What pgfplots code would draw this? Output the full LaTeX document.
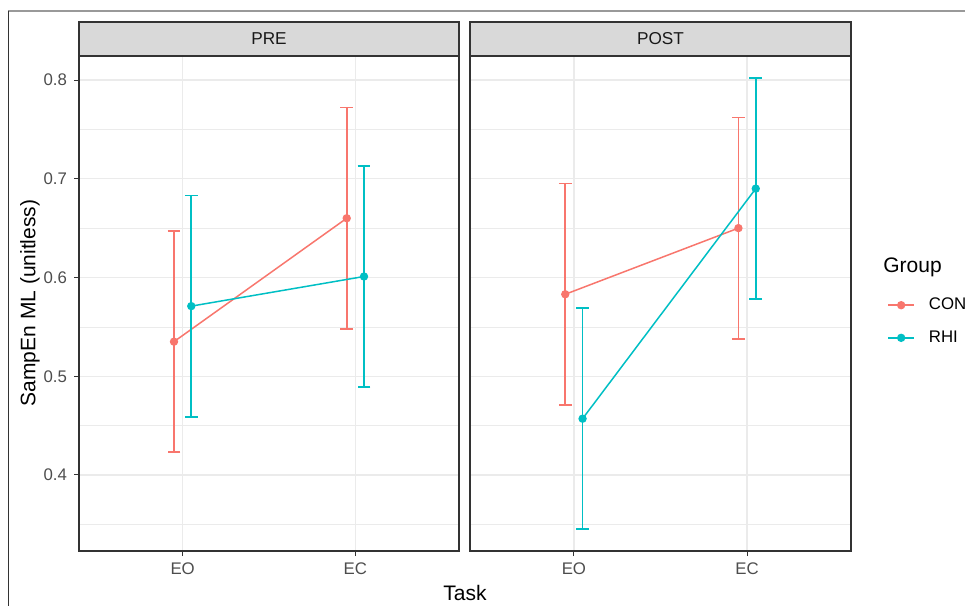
\documentclass[border=0pt]{standalone}
\usepackage{fontspec}
\setmainfont{Liberation Sans}
\usepackage{pgfplots}
\pgfplotsset{compat=1.18}

\definecolor{con}{HTML}{F8766D}
\definecolor{rhi}{HTML}{00BFC4}
\definecolor{gridc}{HTML}{EBEBEB}
\definecolor{stripc}{HTML}{D9D9D9}
\definecolor{framec}{HTML}{333333}
\definecolor{ticklab}{HTML}{4D4D4D}

% constant SE of 0.112 for every cell
\pgfplotstableread{
x    y     err
0.95 0.535 0.112
1.95 0.660 0.112
}\preCON
\pgfplotstableread{
x    y     err
1.05 0.571 0.112
2.05 0.601 0.112
}\preRHI
\pgfplotstableread{
x    y     err
0.95 0.583 0.112
1.95 0.650 0.112
}\postCON
\pgfplotstableread{
x    y     err
1.05 0.457 0.112
2.05 0.690 0.112
}\postRHI

\pgfplotsset{
  panel/.style={
    scale only axis, height=247.5pt,
    xmin=0.4, xmax=2.6, ymin=0.323, ymax=0.8243,
    xtick={1,2}, xticklabels={EO,EC},
    ytick={0.4,0.5,0.6,0.7,0.8},
    minor ytick={0.35,0.45,0.55,0.65,0.75},
    grid=both,
    major grid style={gridc, line width=0.6pt},
    minor grid style={gridc, line width=0.35pt},
    axis line style={framec, line width=0.6pt},
    tick style={framec, line width=0.5pt},
    tick align=outside, major tick length=2.5pt, minor tick length=0pt,
    xtick pos=bottom, ytick pos=left,
    ticklabel style={font=\fontsize{8.4}{10}\selectfont, text=ticklab},
    /pgf/number format/assume math mode=true,
    yticklabel style={/pgf/number format/.cd, fixed, fixed zerofill, precision=1},
    legend image code/.code={
      \draw[mark repeat=2, mark phase=2, #1] plot coordinates {(0pt,0pt) (6.5pt,0pt) (13pt,0pt)};
    },
  },
  grp/.style={
    color=#1, line width=0.75pt, mark=*, mark size=1.7pt,
    mark options={fill=#1, draw=#1},
    error bars/.cd, y dir=both, y explicit,
    error bar style={line width=0.8pt, color=#1},
    error mark options={rotate=90, mark size=3.2pt, line width=0.8pt, color=#1},
  },
}

\begin{document}
\begin{tikzpicture}
\useasboundingbox (0,0) rectangle (482.5pt,-303pt);
\draw[color=white] (0,0) rectangle (482.5pt,-303pt);
\draw[color=black!40, line width=1pt] (4pt,-5.25pt) -- (482.5pt,-5.25pt);
\draw[color=framec, line width=0.6pt] (4.25pt,-5.25pt) -- (4.25pt,-303pt);

\begin{axis}[panel, name=pre, width=190pt, at={(39.5pt,-275.5pt)}, anchor=south west]
\addplot[grp=con] table[x=x, y=y, y error=err] {\preCON};
\addplot[grp=rhi] table[x=x, y=y, y error=err] {\preRHI};
\end{axis}

\begin{axis}[panel, name=post, width=190.5pt, at={(235pt,-275.5pt)}, anchor=south west,
  yticklabels={}, ytick style={draw=none},
  legend style={at={(1.0945,0.4637)}, anchor=west, draw=none, fill=none,
    inner sep=0pt, font=\fontsize{8.4}{10}\selectfont, row sep=9pt,
    nodes={inner sep=0pt},
    /tikz/every odd column/.append style={column sep=7pt}},
  legend cell align=left]
\addplot[grp=con] table[x=x, y=y, y error=err] {\postCON};
\addlegendentry{CON}
\addplot[grp=rhi] table[x=x, y=y, y error=err] {\postRHI};
\addlegendentry{RHI}
\end{axis}

\foreach \p/\t in {pre/PRE, post/POST}{
  \draw[fill=stripc, draw=framec, line width=0.6pt] (\p.north west) rectangle ([yshift=17pt]\p.north east);
  \node[font=\fontsize{8.6}{10}\selectfont, text=black!90] at ([yshift=8.5pt]\p.north) {\t};
}

\node[rotate=90, font=\fontsize{10.5}{12}\selectfont] at (15pt,-151.5pt) {SampEn ML (unitless)};
\node[font=\fontsize{10.5}{12}\selectfont] at (232.5pt,-296.5pt) {Task};
\node[anchor=west, inner sep=0pt, font=\fontsize{10.5}{12}\selectfont] at (441.5pt,-133.5pt) {Group};
\end{tikzpicture}
\end{document}
